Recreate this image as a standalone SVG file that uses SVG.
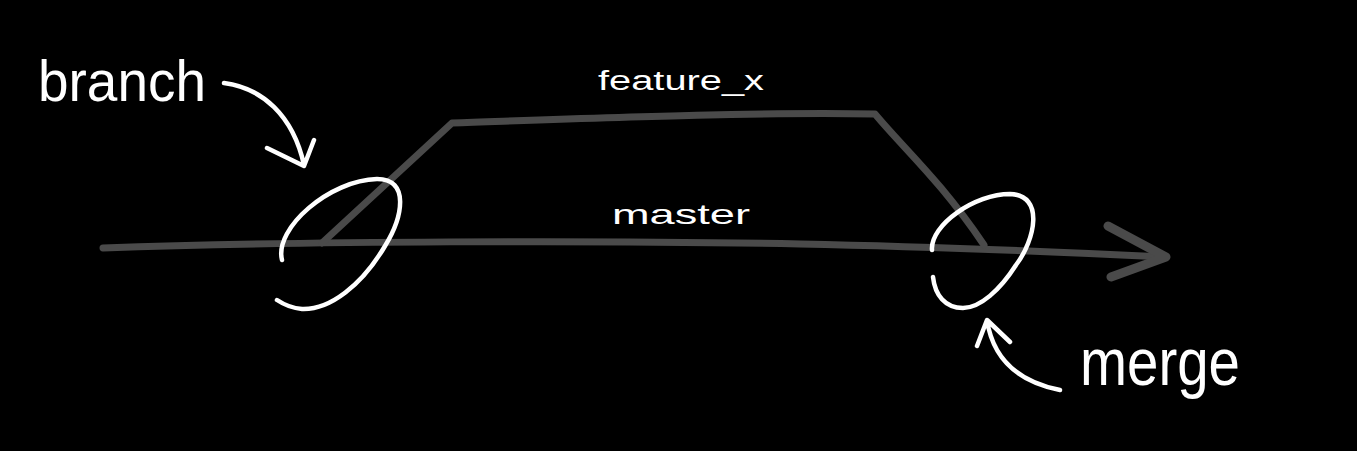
<svg xmlns="http://www.w3.org/2000/svg" width="1357" height="451" viewBox="0 0 1357 451">
<style>
.bg{fill:#000}
.track{fill:none;stroke:#4a4a4a;stroke-width:7;stroke-linecap:round;stroke-linejoin:round}
.ink{fill:none;stroke:#fff;stroke-width:4.5;stroke-linecap:round;stroke-linejoin:round}
.lbl{fill:#fff;font-family:"Liberation Sans",Arial,sans-serif}
</style>
<rect class="bg" x="0" y="0" width="1357" height="451"/>
<g id="connectors">
<path id="master-line" class="track" d="M103,248 C300,241 600,240 800,244 C950,247 1060,252 1165,257"/>
<path id="master-head" class="track" style="stroke-width:9" d="M1108,226 L1166,257 L1111,277"/>
<path id="feature-line" class="track" d="M322,243 L452,123 C600,118 750,112 875,114 C905,150 940,180 984,245"/>
<path id="branch-arrow" class="ink" d="M224,83 C262,88 293,115 304,165 M267,148 L304,166 L314,140"/>
<path id="merge-arrow" class="ink" d="M1060,390 C1020,382 993,360 987,320 M977,346 L987,320 L1010,342"/>
</g>
<g id="branch-commit">
<path class="ink" d="M282,260 C274,228 330,180 377,179 C410,179 403,217 385,246 C362,285 330,310 302,309 C290,308 283,304 277,300"/>
</g>
<g id="merge-commit">
<path class="ink" d="M932,250 C930,225 975,194 1010,194 C1045,195 1035,240 1016,265 C1000,290 980,308 963,308 C945,308 935,295 933,277"/>
</g>
<g id="label-branch"><text class="lbl" x="38" y="101" font-size="58" textLength="168" lengthAdjust="spacingAndGlyphs">branch</text></g>
<g id="label-feature"><text class="lbl" x="598" y="90" font-size="27" textLength="166" lengthAdjust="spacingAndGlyphs">feature_x</text></g>
<g id="label-master"><text class="lbl" x="612" y="224" font-size="28" textLength="138" lengthAdjust="spacingAndGlyphs">master</text></g>
<g id="label-merge"><text class="lbl" x="1080" y="385" font-size="66" textLength="160" lengthAdjust="spacingAndGlyphs">merge</text></g>
</svg>
